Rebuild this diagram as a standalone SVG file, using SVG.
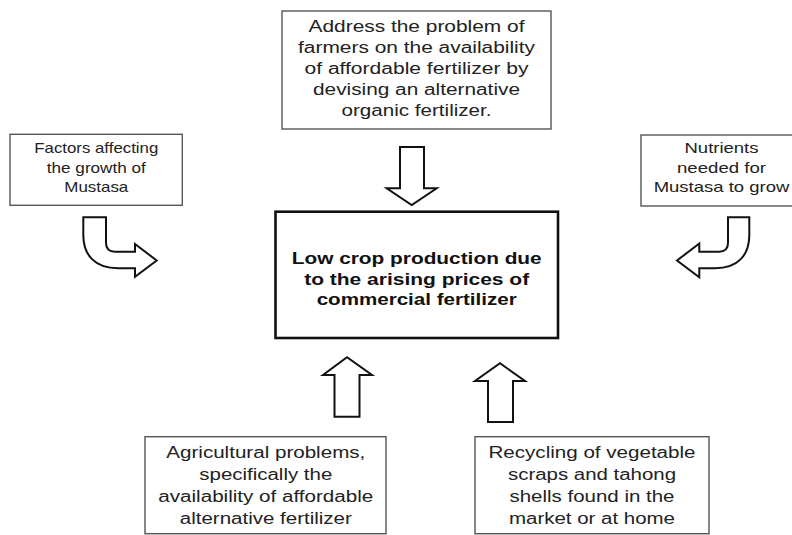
<svg xmlns="http://www.w3.org/2000/svg" width="792" height="535" viewBox="0 0 792 535">
<style>
.box{fill:#fff;stroke:#555;stroke-width:1.4}
.main{fill:#fff;stroke:#111;stroke-width:2.6}
.t{font-family:"Liberation Sans",Arial,sans-serif;font-size:16px;fill:#222;text-anchor:middle}
.s{font-size:15px}
.b{font-weight:bold;fill:#111}
.arr{fill:#fff;stroke:#111;stroke-width:2;stroke-linejoin:miter}
</style>
<rect width="792" height="535" fill="#fff"/>
<g id="top">
<rect class="box" x="282" y="11" width="269" height="118"/>
<text class="t" x="416.5" y="31.5" textLength="216" lengthAdjust="spacingAndGlyphs">Address the problem of</text>
<text class="t" x="416.5" y="52.5" textLength="237" lengthAdjust="spacingAndGlyphs">farmers on the availability</text>
<text class="t" x="416.5" y="73.5" textLength="224" lengthAdjust="spacingAndGlyphs">of affordable fertilizer by</text>
<text class="t" x="416.5" y="94.5" textLength="207" lengthAdjust="spacingAndGlyphs">devising an alternative</text>
<text class="t" x="416.5" y="115.5" textLength="150" lengthAdjust="spacingAndGlyphs">organic fertilizer.</text>
</g>
<g id="left">
<rect class="box" x="10" y="134.3" width="172.3" height="71"/>
<text class="t s" x="96.3" y="153.3" textLength="124" lengthAdjust="spacingAndGlyphs">Factors affecting</text>
<text class="t s" x="96.3" y="172.7" textLength="99" lengthAdjust="spacingAndGlyphs">the growth of</text>
<text class="t s" x="96.3" y="191.7" textLength="64" lengthAdjust="spacingAndGlyphs">Mustasa</text>
</g>
<g id="right">
<rect class="box" x="641" y="135" width="160" height="71"/>
<text class="t s" x="721.5" y="153.3" textLength="74" lengthAdjust="spacingAndGlyphs">Nutrients</text>
<text class="t s" x="721.5" y="172.7" textLength="89" lengthAdjust="spacingAndGlyphs">needed for</text>
<text class="t s" x="721.5" y="191.7" textLength="135.6" lengthAdjust="spacingAndGlyphs">Mustasa to grow</text>
</g>
<g id="center">
<rect class="main" x="275.5" y="211.7" width="282.5" height="126.3"/>
<text class="t b" x="416.7" y="264.3" textLength="250" lengthAdjust="spacingAndGlyphs">Low crop production due</text>
<text class="t b" x="416.7" y="285" textLength="225" lengthAdjust="spacingAndGlyphs">to the arising prices of</text>
<text class="t b" x="416.7" y="304.8" textLength="200" lengthAdjust="spacingAndGlyphs">commercial fertilizer</text>
</g>
<g id="bottom-left">
<rect class="box" x="145" y="436.7" width="241" height="97"/>
<text class="t" x="265.8" y="458.3" textLength="199" lengthAdjust="spacingAndGlyphs">Agricultural problems,</text>
<text class="t" x="265.8" y="480" textLength="133" lengthAdjust="spacingAndGlyphs">specifically the</text>
<text class="t" x="265.8" y="502.3" textLength="215" lengthAdjust="spacingAndGlyphs">availability of affordable</text>
<text class="t" x="265.8" y="524.3" textLength="172" lengthAdjust="spacingAndGlyphs">alternative fertilizer</text>
</g>
<g id="bottom-right">
<rect class="box" x="475" y="436.7" width="234" height="97"/>
<text class="t" x="592" y="458.3" textLength="207" lengthAdjust="spacingAndGlyphs">Recycling of vegetable</text>
<text class="t" x="592" y="480" textLength="168" lengthAdjust="spacingAndGlyphs">scraps and tahong</text>
<text class="t" x="592" y="502.3" textLength="165" lengthAdjust="spacingAndGlyphs">shells found in the</text>
<text class="t" x="592" y="524.3" textLength="166" lengthAdjust="spacingAndGlyphs">market or at home</text>
</g>
<g id="connectors">
<path class="arr" d="M400,147 H424 V188.3 H436.7 L411.7,205 L386.7,188.3 H400 Z"/>
<path class="arr" d="M83.3,217.3 H106 V243 Q106,251.7 115,251.7 H135 V244 L156.7,260.5 L135,276.7 V268.3 H118 C95,268.3 83.3,255 83.3,235 Z"/>
<path class="arr" d="M749.3,217.3 H728 V243 Q728,251.7 719,251.7 H699.3 V243.5 L677,260.5 L699.3,277.3 V268.3 H715 C738,268.3 749.3,255 749.3,235 Z"/>
<path class="arr" d="M334.5,416.7 V375 H323 L347,357.3 L372,375 H359.5 V416.7 Z"/>
<path class="arr" d="M488,422 V381 H475 L500,363.3 L525,381 H513 V422 Z"/>
</g>
</svg>
